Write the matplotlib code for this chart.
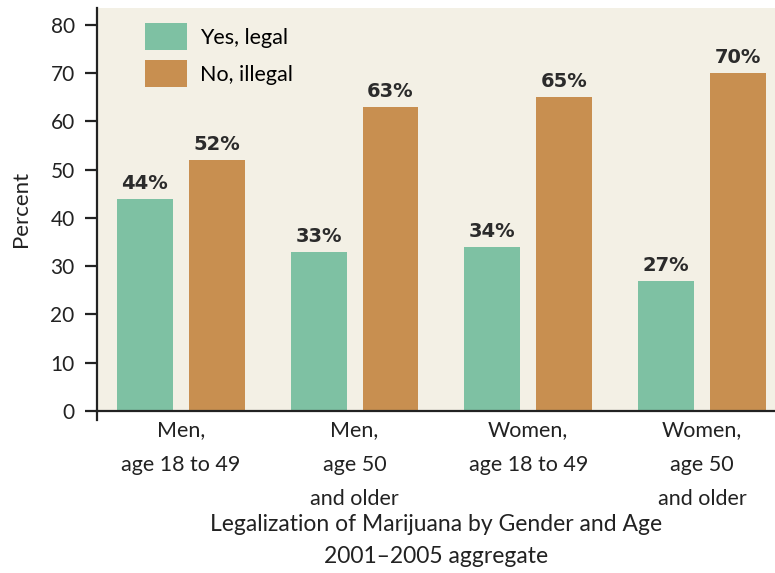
import matplotlib
matplotlib.use('Agg')
import matplotlib.pyplot as plt
import numpy as np

# data
groups = ['Men,\nage 18 to 49', 'Men,\nage 50\nand older',
          'Women,\nage 18 to 49', 'Women,\nage 50\nand older']
yes_legal = [44, 33, 34, 27]
no_illegal = [52, 63, 65, 70]
yticks = [0, 10, 20, 30, 40, 50, 60, 70, 80]

green = '#7ec1a3'
orange = '#c88f50'
cream = '#f3f0e5'
ink = '#222222'

plt.rcParams['font.family'] = ['Lato', 'DejaVu Sans']

fig = plt.figure(figsize=(7.75, 5.73), dpi=100, facecolor='white')
ax = fig.add_axes([0.125, 0.283, 0.875, 0.703])
ax.set_facecolor(cream)

x = np.arange(len(groups))
w = 0.322
off = 0.207
b1 = ax.bar(x - off, yes_legal, w, color=green, label='Yes, legal')
b2 = ax.bar(x + off, no_illegal, w, color=orange, label='No, illegal')

for bars in (b1, b2):
    for r in bars:
        ax.text(r.get_x() + r.get_width() / 2, r.get_height() + 1.2,
                '%d%%' % r.get_height(), ha='center', va='bottom',
                fontsize=14, fontweight='bold', color='#2b2b2b',
                family='DejaVu Sans')

ax.set_xlim(-0.483, 3.42)
ax.set_ylim(0, 83.5)
ax.set_yticks(yticks)
ax.set_xticks(x)
ax.set_xticklabels(groups, fontsize=15.5, linespacing=1.9, color=ink)
ax.tick_params(axis='x', length=0, pad=7)
ax.tick_params(axis='y', length=9, width=1.6, labelsize=15, colors=ink, pad=7)

for s in ['top', 'right']:
    ax.spines[s].set_visible(False)
for s in ['left', 'bottom']:
    ax.spines[s].set_linewidth(1.6)
    ax.spines[s].set_color(ink)
# y axis pokes a little below the x axis
ax.plot([-0.483, -0.483], [0, -2], color=ink, lw=1.6, clip_on=False)

ax.set_ylabel('Percent', fontsize=16, labelpad=14, color=ink)
ax.set_xlabel('Legalization of Marijuana by Gender and Age\n2001\u20132005 aggregate',
              fontsize=16.5, linespacing=1.7, labelpad=3, color=ink)

ax.legend(loc='upper left', bbox_to_anchor=(0.042, 1.01), frameon=False,
          fontsize=15.5, handlelength=1.95, handleheight=1.55, handletextpad=0.6,
          labelspacing=0.45)

fig.savefig('out.png', dpi=100, facecolor='white')
